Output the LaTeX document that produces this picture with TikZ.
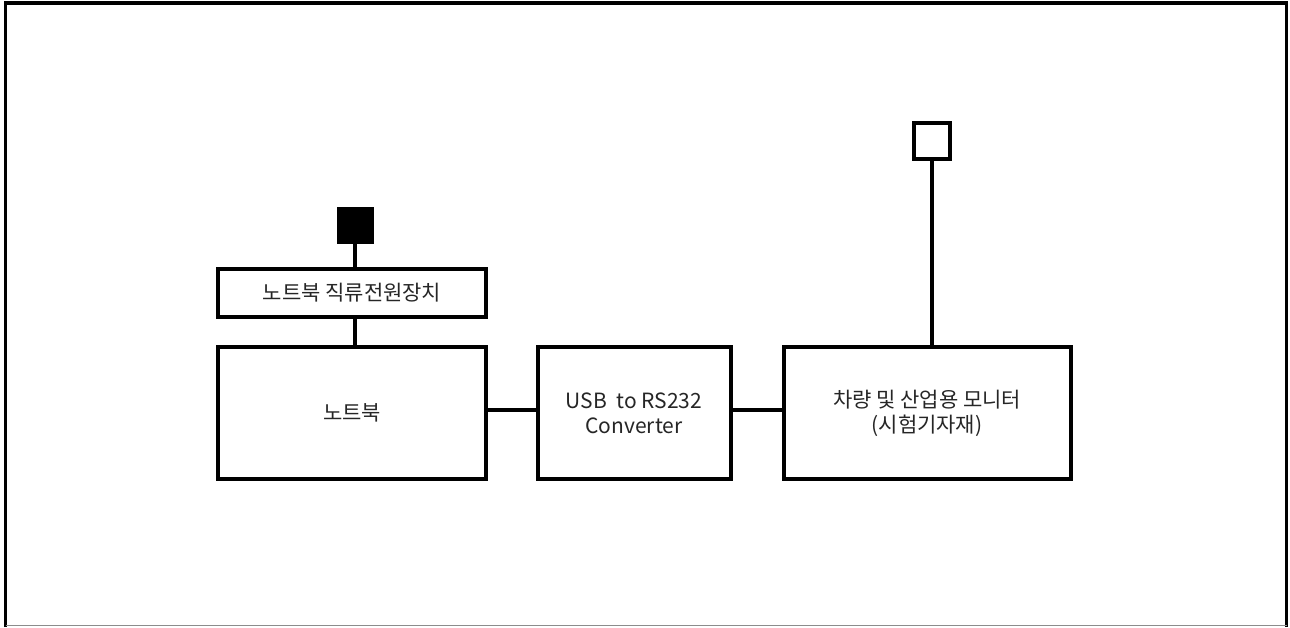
\documentclass[tikz,border=0pt]{standalone}
\usepackage{fontspec}
\setmainfont{Noto Sans CJK KR}
\begin{document}
\begin{tikzpicture}[x=1pt,y=-1pt,
  blk/.style={draw=black,line width=4pt,fill=white,inner sep=0pt,font=\fontsize{21}{25}\selectfont,align=center,text=black!85},
  wire/.style={line width=3.5pt,draw=black}]
\useasboundingbox (0,0) rectangle (1290,627);
\fill[white] (0,0) rectangle (1290,627);
% outer frame
\draw[line width=3.5pt] (5.5,627) -- (5.5,3) -- (1286.5,3) -- (1286.5,627);
\draw[line width=1.5pt,black!45] (5.5,625.5) -- (1286.5,625.5);
% boxes
\node[blk,minimum width=268pt,minimum height=48pt] (psu) at (352,292.5) {노트북 직류전원장치};
\node[blk,minimum width=268pt,minimum height=132pt] (nb) at (352,413) {노트북};
\node[blk,minimum width=193pt,minimum height=132pt] (conv) at (634,413) {USB\ \ to RS232\\Converter};
\node[blk,minimum width=287pt,minimum height=132pt] (mon) at (927,413) {차량 및 산업용 모니터\\(시험기자재)};
\node[draw=black,fill=black,line width=2pt,minimum size=35pt,inner sep=0pt] (bsq) at (355,225) {};
\node[draw=black,fill=white,line width=3.5pt,minimum size=36pt,inner sep=0pt] (wsq) at (932,141) {};
% wires
\draw[wire] (bsq.south) -- (psu.north -| bsq.south);
\draw[wire] (psu.south -| bsq.south) -- (nb.north -| bsq.south);
\draw[wire] (nb.east |- 0,410) -- (conv.west |- 0,410);
\draw[wire] (conv.east |- 0,410) -- (mon.west |- 0,410);
\draw[wire] (wsq.south) -- (mon.north -| wsq.south);
\end{tikzpicture}
\end{document}
